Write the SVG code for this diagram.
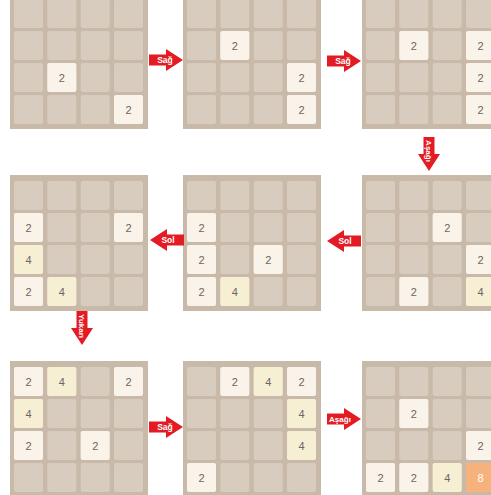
<svg xmlns="http://www.w3.org/2000/svg" xmlns:xlink="http://www.w3.org/1999/xlink" width="491" height="495" viewBox="0 0 491 495">
<style>
.bd{fill:#c9b9a9}
.e{fill:#d7ccbd}
.t2{fill:#faf3ea}
.t4{fill:#f7efd4}
.t8{fill:#f6b27d}
.n{font-family:"Liberation Sans",Arial,sans-serif;font-size:11px;fill:#6b6660;text-anchor:middle}
.n8{fill:#ffffff}
.arr{fill:#e31b23}
.al{font-family:"Liberation Sans",Arial,sans-serif;font-size:8.5px;font-weight:bold;fill:#ffffff;text-anchor:middle}
.av{font-size:8px}
</style>
<defs>
<g id="grid">
<rect class="bd" x="0" y="0" width="138" height="136"/>
<rect class="e" x="4" y="6" width="29" height="29" rx="2"/>
<rect class="e" x="37.3" y="6" width="29" height="29" rx="2"/>
<rect class="e" x="70.7" y="6" width="29" height="29" rx="2"/>
<rect class="e" x="104" y="6" width="29" height="29" rx="2"/>
<rect class="e" x="4" y="38" width="29" height="29" rx="2"/>
<rect class="e" x="37.3" y="38" width="29" height="29" rx="2"/>
<rect class="e" x="70.7" y="38" width="29" height="29" rx="2"/>
<rect class="e" x="104" y="38" width="29" height="29" rx="2"/>
<rect class="e" x="4" y="70" width="29" height="29" rx="2"/>
<rect class="e" x="37.3" y="70" width="29" height="29" rx="2"/>
<rect class="e" x="70.7" y="70" width="29" height="29" rx="2"/>
<rect class="e" x="104" y="70" width="29" height="29" rx="2"/>
<rect class="e" x="4" y="102" width="29" height="29" rx="2"/>
<rect class="e" x="37.3" y="102" width="29" height="29" rx="2"/>
<rect class="e" x="70.7" y="102" width="29" height="29" rx="2"/>
<rect class="e" x="104" y="102" width="29" height="29" rx="2"/>
</g>
<path id="arrowR" d="M0,-5.5 H17 V-11 L34,0 L17,11 V5.5 H0 Z"/>
</defs>

<g id="board1" transform="translate(10,-7)">
<use href="#grid"/>
<rect class="t2" x="37.3" y="70" width="29" height="29" rx="2"/><text class="n" x="51.8" y="88.5">2</text>
<rect class="t2" x="104" y="102" width="29" height="29" rx="2"/><text class="n" x="118.5" y="120.5">2</text>
</g>

<g id="board2" transform="translate(183,-7)">
<use href="#grid"/>
<rect class="t2" x="37.3" y="38" width="29" height="29" rx="2"/><text class="n" x="51.8" y="56.5">2</text>
<rect class="t2" x="104" y="70" width="29" height="29" rx="2"/><text class="n" x="118.5" y="88.5">2</text>
<rect class="t2" x="104" y="102" width="29" height="29" rx="2"/><text class="n" x="118.5" y="120.5">2</text>
</g>

<g id="board3" transform="translate(362,-7)">
<use href="#grid"/>
<rect class="t2" x="37.3" y="38" width="29" height="29" rx="2"/><text class="n" x="51.8" y="56.5">2</text>
<rect class="t2" x="104" y="38" width="29" height="29" rx="2"/><text class="n" x="118.5" y="56.5">2</text>
<rect class="t2" x="104" y="70" width="29" height="29" rx="2"/><text class="n" x="118.5" y="88.5">2</text>
<rect class="t2" x="104" y="102" width="29" height="29" rx="2"/><text class="n" x="118.5" y="120.5">2</text>
</g>

<g id="board4" transform="translate(10,175)">
<use href="#grid"/>
<rect class="t2" x="4" y="38" width="29" height="29" rx="2"/><text class="n" x="18.5" y="56.5">2</text>
<rect class="t2" x="104" y="38" width="29" height="29" rx="2"/><text class="n" x="118.5" y="56.5">2</text>
<rect class="t4" x="4" y="70" width="29" height="29" rx="2"/><text class="n" x="18.5" y="88.5">4</text>
<rect class="t2" x="4" y="102" width="29" height="29" rx="2"/><text class="n" x="18.5" y="120.5">2</text>
<rect class="t4" x="37.3" y="102" width="29" height="29" rx="2"/><text class="n" x="51.8" y="120.5">4</text>
</g>

<g id="board5" transform="translate(183,175)">
<use href="#grid"/>
<rect class="t2" x="4" y="38" width="29" height="29" rx="2"/><text class="n" x="18.5" y="56.5">2</text>
<rect class="t2" x="4" y="70" width="29" height="29" rx="2"/><text class="n" x="18.5" y="88.5">2</text>
<rect class="t2" x="70.7" y="70" width="29" height="29" rx="2"/><text class="n" x="85.2" y="88.5">2</text>
<rect class="t2" x="4" y="102" width="29" height="29" rx="2"/><text class="n" x="18.5" y="120.5">2</text>
<rect class="t4" x="37.3" y="102" width="29" height="29" rx="2"/><text class="n" x="51.8" y="120.5">4</text>
</g>

<g id="board6" transform="translate(362,175)">
<use href="#grid"/>
<rect class="t2" x="70.7" y="38" width="29" height="29" rx="2"/><text class="n" x="85.2" y="56.5">2</text>
<rect class="t2" x="104" y="70" width="29" height="29" rx="2"/><text class="n" x="118.5" y="88.5">2</text>
<rect class="t2" x="37.3" y="102" width="29" height="29" rx="2"/><text class="n" x="51.8" y="120.5">2</text>
<rect class="t4" x="104" y="102" width="29" height="29" rx="2"/><text class="n" x="118.5" y="120.5">4</text>
</g>

<g id="board7" transform="translate(10,361)">
<use href="#grid"/>
<rect class="t2" x="4" y="6" width="29" height="29" rx="2"/><text class="n" x="18.5" y="24.5">2</text>
<rect class="t4" x="37.3" y="6" width="29" height="29" rx="2"/><text class="n" x="51.8" y="24.5">4</text>
<rect class="t2" x="104" y="6" width="29" height="29" rx="2"/><text class="n" x="118.5" y="24.5">2</text>
<rect class="t4" x="4" y="38" width="29" height="29" rx="2"/><text class="n" x="18.5" y="56.5">4</text>
<rect class="t2" x="4" y="70" width="29" height="29" rx="2"/><text class="n" x="18.5" y="88.5">2</text>
<rect class="t2" x="70.7" y="70" width="29" height="29" rx="2"/><text class="n" x="85.2" y="88.5">2</text>
</g>

<g id="board8" transform="translate(183,361)">
<use href="#grid"/>
<rect class="t2" x="37.3" y="6" width="29" height="29" rx="2"/><text class="n" x="51.8" y="24.5">2</text>
<rect class="t4" x="70.7" y="6" width="29" height="29" rx="2"/><text class="n" x="85.2" y="24.5">4</text>
<rect class="t2" x="104" y="6" width="29" height="29" rx="2"/><text class="n" x="118.5" y="24.5">2</text>
<rect class="t4" x="104" y="38" width="29" height="29" rx="2"/><text class="n" x="118.5" y="56.5">4</text>
<rect class="t4" x="104" y="70" width="29" height="29" rx="2"/><text class="n" x="118.5" y="88.5">4</text>
<rect class="t2" x="4" y="102" width="29" height="29" rx="2"/><text class="n" x="18.5" y="120.5">2</text>
</g>

<g id="board9" transform="translate(362,361)">
<use href="#grid"/>
<rect class="t2" x="37.3" y="38" width="29" height="29" rx="2"/><text class="n" x="51.8" y="56.5">2</text>
<rect class="t2" x="104" y="70" width="29" height="29" rx="2"/><text class="n" x="118.5" y="88.5">2</text>
<rect class="t2" x="4" y="102" width="29" height="29" rx="2"/><text class="n" x="18.5" y="120.5">2</text>
<rect class="t2" x="37.3" y="102" width="29" height="29" rx="2"/><text class="n" x="51.8" y="120.5">2</text>
<rect class="t4" x="70.7" y="102" width="29" height="29" rx="2"/><text class="n" x="85.2" y="120.5">4</text>
<rect class="t8" x="104" y="102" width="29" height="29" rx="2"/><text class="n n8" x="118.5" y="120.5">8</text>
</g>

<g id="connectors">
<use href="#arrowR" class="arr" transform="translate(149,60)"/>
<text class="al" x="165" y="63">Sağ</text>
<use href="#arrowR" class="arr" transform="translate(327,61)"/>
<text class="al" x="343" y="64">Sağ</text>
<use href="#arrowR" class="arr" transform="translate(429,137) rotate(90)"/>
<text class="al av" transform="translate(429,151) rotate(90)" y="3">Aşağı</text>
<use href="#arrowR" class="arr" transform="translate(361,241) scale(-1,1)"/>
<text class="al" x="345" y="244">Sol</text>
<use href="#arrowR" class="arr" transform="translate(184,240) scale(-1,1)"/>
<text class="al" x="168" y="243">Sol</text>
<use href="#arrowR" class="arr" transform="translate(82,311) rotate(90)"/>
<text class="al av" transform="translate(82,326) rotate(90)" y="3">Yukarı</text>
<use href="#arrowR" class="arr" transform="translate(149,427)"/>
<text class="al" x="165" y="430">Sağ</text>
<use href="#arrowR" class="arr" transform="translate(327,419)"/>
<text class="al av" x="340" y="422">Aşağı</text>
</g>
</svg>
